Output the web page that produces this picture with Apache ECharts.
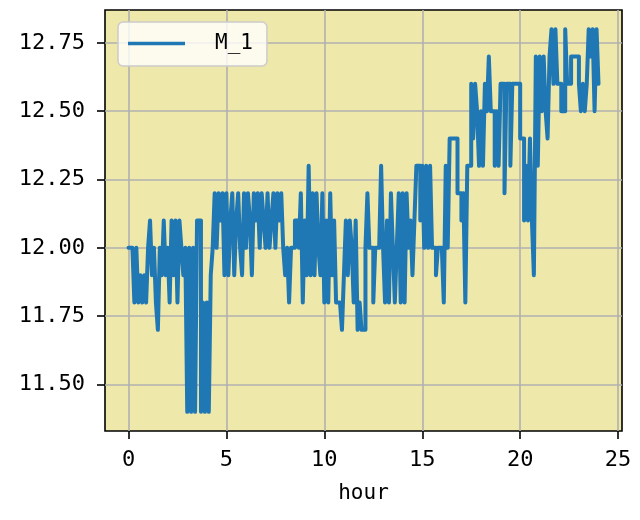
<!DOCTYPE html>
<html lang="en">
<head>
    <meta charset="UTF-8">
    <title>M_1</title>
    <style>
        html, body { margin: 0; padding: 0; background: #fff; }
    </style>
</head>
<body>
    <div id="chart" style="width: 640px;height: 520px;"></div>
<script src="https://cdn.jsdelivr.net/npm/echarts@6.0.0/dist/echarts.min.js"></script>
<script>
    // readings every 0.1 hour
    var m1_h00_06 = [
        12.0, 12.0, 12.0, 11.8, 12.0, 11.8, 11.9, 11.8, 11.9, 11.8,
        12.0, 12.1, 11.9, 12.0, 11.8, 11.7, 12.0, 11.9, 12.1, 11.9,
        12.0, 11.8, 12.1, 11.9, 12.1, 11.8, 12.1, 12.0, 11.9, 12.0,
        11.4, 12.0, 11.4, 12.0, 11.4, 12.1, 12.1, 11.4, 11.8, 11.4,
        11.8, 11.4, 11.9, 12.0, 12.2, 12.0, 12.2, 12.1, 12.2, 11.9,
        12.2, 11.9, 12.1, 12.2, 11.9, 12.1, 12.2, 12.0, 11.9, 12.2
    ];
    var m1_h06_12 = [
        12.0, 12.2, 12.1, 11.9, 12.2, 12.1, 12.2, 12.0, 12.2, 12.1,
        12.0, 12.2, 12.0, 12.1, 12.2, 12.0, 12.2, 12.1, 12.2, 12.0,
        11.9, 12.0, 11.8, 12.0, 12.0, 12.1, 12.1, 12.0, 12.2, 11.8,
        12.1, 11.9, 12.3, 11.9, 12.2, 11.9, 12.2, 12.0, 11.9, 12.2,
        11.8, 12.1, 11.8, 12.2, 11.9, 12.1, 11.8, 11.8, 11.8, 11.7,
        11.9, 12.1, 11.9, 12.1, 12.0, 11.8, 12.1, 11.7, 11.8, 11.7
    ];
    var m1_h12_18 = [
        11.7, 12.0, 12.2, 12.0, 12.0, 11.8, 12.0, 12.0, 12.0, 12.3,
        12.0, 11.8, 12.1, 11.8, 12.2, 12.0, 11.8, 12.0, 12.2, 11.8,
        12.2, 11.8, 12.2, 12.0, 12.1, 11.9, 12.1, 12.3, 12.3, 12.1,
        12.3, 12.0, 12.3, 12.0, 12.3, 12.0, 12.0, 11.9, 12.0, 12.0,
        12.0, 11.8, 12.3, 12.0, 12.4, 12.4, 12.4, 12.4, 12.2, 12.2,
        12.1, 12.2, 11.8, 12.3, 12.3, 12.6, 12.4, 12.6, 12.5, 12.3
    ];
    var m1_h18_24 = [
        12.5, 12.3, 12.6, 12.5, 12.7, 12.5, 12.5, 12.3, 12.5, 12.3,
        12.6, 12.6, 12.2, 12.6, 12.6, 12.3, 12.6, 12.6, 12.6, 12.6,
        12.4, 12.4, 12.1, 12.3, 12.1, 12.4, 12.1, 11.9, 12.7, 12.3,
        12.7, 12.5, 12.7, 12.5, 12.4, 12.7, 12.8, 12.6, 12.8, 12.6,
        12.6, 12.5, 12.5, 12.8, 12.6, 12.6, 12.7, 12.7, 12.7, 12.7,
        12.6, 12.5, 12.6, 12.5, 12.6, 12.8, 12.7, 12.8, 12.5, 12.8,
        12.6
    ];
    var stepHours = 0.1;
    var xTicks = [0, 5, 10, 15, 20, 25];
    var yTicks = [11.5, 11.75, 12.0, 12.25, 12.5, 12.75];

    var values = m1_h00_06.concat(m1_h06_12, m1_h12_18, m1_h18_24);
    // each reading holds until the next one, so draw it as a step line
    var points = [];
    for (var i = 0; i < values.length; i++) {
        var t = +(i * stepHours).toFixed(2);
        var tNext = i < values.length - 1 ? +((i + 1) * stepHours).toFixed(2) : t;
        points.push([t, values[i]]);
        if (tNext !== t) points.push([tNext, values[i]]);
    }

    var font = 'DejaVu Sans Mono';
    var chart = echarts.init(document.getElementById('chart'));
    var option = {
        animation: false,
        backgroundColor: '#ffffff',
        grid: {
            left: 105, right: 18, top: 10, bottom: 89,
            show: true,
            backgroundColor: '#EEE8AA',
            borderColor: '#000000',
            borderWidth: 1.6
        },
        legend: {
            left: 118, top: 22,
            data: [{ name: 'M_1', icon: 'rect' }],
            itemWidth: 57, itemHeight: 3.5,
            padding: [11, 14, 12, 10],
            backgroundColor: 'rgba(255,255,255,0.8)',
            borderColor: '#cccccc',
            borderWidth: 1.5,
            borderRadius: 5,
            textStyle: { fontFamily: font, fontSize: 21, color: '#000', padding: [0, 0, 0, 25] }
        },
        xAxis: {
            type: 'value',
            min: -1.2, max: 25.2,
            name: 'hour',
            nameLocation: 'middle',
            nameGap: 52,
            nameTextStyle: { fontFamily: font, fontSize: 21, color: '#000' },
            axisLine: { show: false, onZero: false },
            axisTick: { show: true, length: 8, customValues: xTicks, lineStyle: { color: '#000', width: 1.6 } },
            axisLabel: { customValues: xTicks, margin: 18, fontFamily: font, fontSize: 22, color: '#000' },
            splitLine: { show: true, lineStyle: { color: '#b0b0b0', width: 1.6 } }
        },
        yAxis: {
            type: 'value',
            min: 11.33, max: 12.87,
            axisLine: { show: false, onZero: false },
            axisTick: { show: true, length: 8, customValues: yTicks, lineStyle: { color: '#000', width: 1.6 } },
            axisLabel: {
                customValues: yTicks, margin: 20, fontFamily: font, fontSize: 22, color: '#000',
                formatter: function (v) { return v.toFixed(2); }
            },
            splitLine: { show: true, lineStyle: { color: '#b0b0b0', width: 1.6 } }
        },
        series: [
            {
                name: 'M_1',
                type: 'line',
                data: points,
                showSymbol: false,
                symbol: 'none',
                sampling: null,
                color: '#1f77b4',
                lineStyle: { width: 4, cap: 'round', join: 'round' }
            }
        ]
    };
    chart.setOption(option);
</script>
</body>
</html>
